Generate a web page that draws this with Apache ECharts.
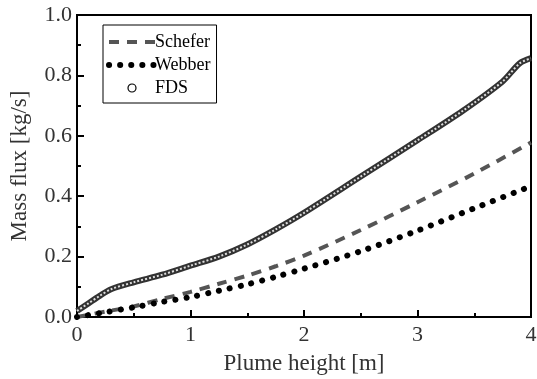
<!DOCTYPE html>
<html>
<head>
<meta charset="utf-8">
<script src="https://cdn.jsdelivr.net/npm/echarts@6/dist/echarts.min.js"></script>
<style>
  html, body { margin: 0; padding: 0; background: #fff; }
  #chart { width: 537px; height: 379px; }
</style>
</head>
<body>
<div id="chart"></div>
<script>
// plume height [m] and mass flux [kg/s]
const fdsX = [0, 0.1, 0.2, 0.3, 0.5, 0.75, 1.0, 1.25, 1.5, 1.75, 2.0, 2.5, 3.0, 3.4, 3.75, 3.9, 4.0];
const fdsY = [0.02, 0.045, 0.07, 0.092, 0.115, 0.14, 0.17, 0.2, 0.24, 0.29, 0.345, 0.465, 0.585, 0.683, 0.78, 0.84, 0.857];

const scheferX = [0, 0.25, 0.5, 0.75, 1.0, 1.25, 1.5, 1.75, 2.0, 2.5, 3.0, 3.5, 4.0];
const scheferY = [0, 0.018, 0.035, 0.06, 0.083, 0.11, 0.137, 0.168, 0.203, 0.288, 0.38, 0.475, 0.578];

const webberX = [0, 0.25, 0.5, 0.75, 1.0, 1.25, 1.5, 1.75, 2.0, 2.5, 3.0, 3.5, 4.0];
const webberY = [0, 0.016, 0.032, 0.05, 0.066, 0.087, 0.108, 0.133, 0.16, 0.218, 0.286, 0.36, 0.433];

const pair = (xs, ys) => xs.map((x, i) => [x, ys[i]]);

const font = 'Liberation Serif';
const chart = echarts.init(document.getElementById('chart'), null, { renderer: 'canvas' });

const axisCommon = {
  axisLine: { lineStyle: { color: '#000', width: 2 } },
  axisTick: { inside: true, length: 7, lineStyle: { color: '#000', width: 2 } },
  minorTick: { show: true, splitNumber: 2, length: 4, lineStyle: { color: '#000', width: 2 } },
  splitLine: { show: false },
  axisLabel: { color: '#333', fontFamily: font, fontSize: 22 },
  nameLocation: 'middle',
  nameTextStyle: { color: '#333', fontFamily: font, fontSize: 23 }
};

chart.setOption({
  animation: false,
  grid: {
    left: 77, right: 6, top: 15, bottom: 62,
    outerBoundsMode: 'none', containLabel: false,
    show: true, borderColor: '#000', borderWidth: 2
  },
  legend: {
    orient: 'vertical',
    left: 103, top: 25,
    itemWidth: 46, itemHeight: 10, itemGap: 5,
    padding: [8, 6, 6, 3],
    borderColor: '#000', borderWidth: 1,
    textStyle: { color: '#000', fontFamily: font, fontSize: 18, padding: [0, 0, 0, -5] },
    data: [
      { name: 'Schefer', itemStyle: { opacity: 0 },
        lineStyle: { color: '#555', width: 4, type: [10, 8] } },
      { name: 'Webber', itemStyle: { opacity: 0 },
        lineStyle: { color: '#000', width: 6, type: [0.1, 11], cap: 'round' } },
      { name: 'FDS', lineStyle: { opacity: 0 },
        itemStyle: { color: '#fff', borderColor: '#000', borderWidth: 1.2 } }
    ]
  },
  xAxis: Object.assign({}, axisCommon, {
    type: 'value', min: 0, max: 4, interval: 1,
    name: 'Plume height [m]', nameGap: 35,
    axisLabel: Object.assign({}, axisCommon.axisLabel, { margin: 7 })
  }),
  yAxis: Object.assign({}, axisCommon, {
    type: 'value', min: 0, max: 1.0, interval: 0.2,
    name: 'Mass flux [kg/s]', nameGap: 46,
    axisLabel: Object.assign({}, axisCommon.axisLabel, { margin: 5, formatter: v => v.toFixed(1) })
  }),
  series: [
    {
      name: 'Schefer', type: 'line', smooth: 0.3, showSymbol: false, symbol: 'circle',
      data: pair(scheferX, scheferY),
      lineStyle: { color: '#555', width: 4, type: [10, 8] },
      itemStyle: { color: '#555' }, z: 3
    },
    {
      name: 'Webber', type: 'line', smooth: 0.3, showSymbol: false, symbol: 'circle',
      data: pair(webberX, webberY),
      lineStyle: { color: '#000', width: 6, type: [0.1, 11], cap: 'round' },
      itemStyle: { color: '#000' }, z: 3
    },
    {
      name: 'FDS', type: 'line', smooth: 0.3, showSymbol: false, symbol: 'circle', symbolSize: 6,
      data: pair(fdsX, fdsY),
      lineStyle: { color: '#333', width: 6 },
      itemStyle: { color: '#fff', borderColor: '#000' }, z: 4
    },
    {
      // light texture of the hollow markers along the FDS curve
      name: 'FDS-texture', type: 'line', smooth: 0.3, showSymbol: false, symbol: 'none',
      data: pair(fdsX, fdsY),
      lineStyle: { color: '#ddd', width: 2, type: [2, 2] },
      z: 5, silent: true
    }
  ]
});
</script>
</body>
</html>
